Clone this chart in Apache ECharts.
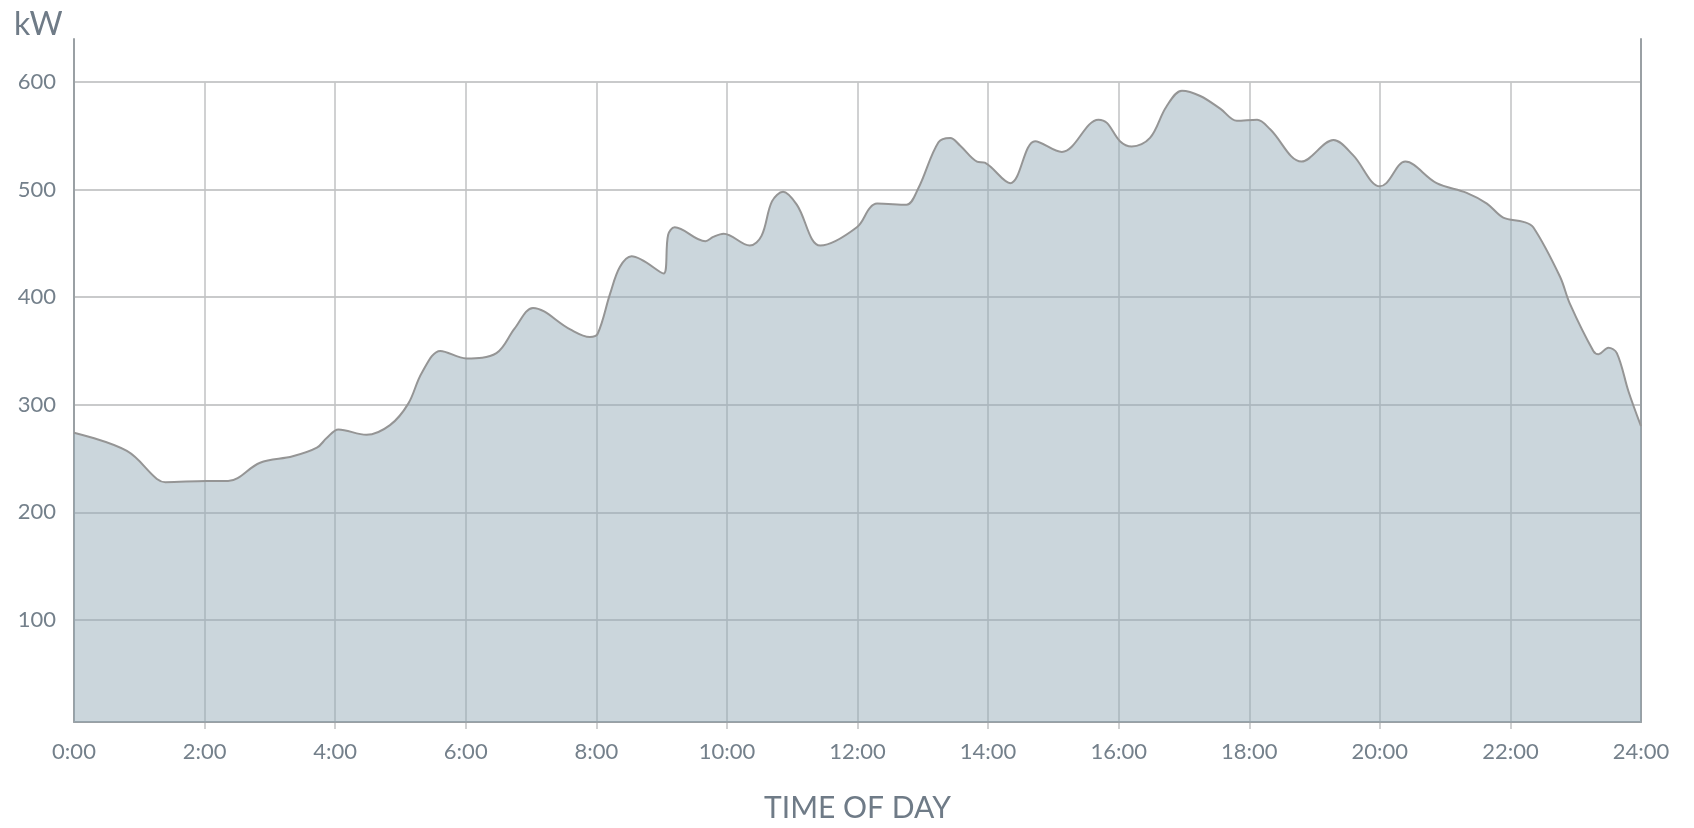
<!DOCTYPE html>
<html>
<head>
<meta charset="utf-8">
<script src="https://cdn.jsdelivr.net/npm/echarts@6/dist/echarts.min.js"></script>
<style>
html,body{margin:0;padding:0;background:#ffffff;}
#chart{width:1694px;height:828px;}
</style>
</head>
<body>
<div id="chart"></div>
<script>
// Time of day (hours) and load (kW)
const hours = [0.00,0.81,1.27,1.40,2.03,2.36,2.85,3.35,3.72,3.87,4.05,4.48,4.84,5.12,5.33,5.61,6.01,6.47,6.75,7.03,7.60,7.90,8.02,8.21,8.36,8.54,9.03,9.10,9.20,9.67,9.79,9.95,10.35,10.53,10.69,10.86,11.07,11.43,11.99,12.19,12.30,12.75,12.93,13.24,13.42,13.57,13.83,13.95,14.34,14.72,15.13,15.69,15.82,16.02,16.20,16.48,16.73,16.97,17.25,17.56,17.81,18.12,18.32,18.80,19.29,19.59,20.00,20.10,20.39,20.87,21.33,21.64,21.89,22.20,22.35,22.76,22.91,23.27,23.35,23.50,23.63,23.81,24.00];
const kw    = [274,257,231,228,229,229,246,252,260,269,277,272,281,301,330,350,343,348,371,390,370,363,366,403,428,438,422,458,465,452,456,459,448,457,489,498,486,448,465,483,487,486,501,544,548,541,526,525,506,545,535,565,562,545,540,548,577,592,587,575,564,565,556,526,546,532,503,506,526,506,497,487,474,470,465,419,394,350,347,353,348,312,280];
const yTickValues = [100,200,300,400,500,600];
const xTickHours = [0,2,4,6,8,10,12,14,16,18,20,22,24];

const yMin = 5, yMax = 640, gridTopValue = 600;
const textColor = '#74808b';
const font = 'Lato';

// pixel layout of the plotting area
const W = 1694, H = 828;
const gLeft = 74, gRight = 53, gTop = 39, gBottom = 99;
const plotH = H - gTop - gBottom;
const topOfGridlines = gTop + (yMax - gridTopValue) / (yMax - yMin) * plotH;

const chart = echarts.init(document.getElementById('chart'), null, {renderer:'canvas'});
chart.setOption({
  animation:false,
  backgroundColor:'#ffffff',
  title:{
    text:'kW', left:9, top:4,
    textStyle:{fontFamily:font, fontSize:32, fontWeight:'normal', color:'#6f7b87'}
  },
  grid:[
    {left:gLeft, right:gRight, top:gTop, bottom:gBottom, containLabel:false},
    {left:gLeft, right:gRight, top:topOfGridlines, bottom:gBottom, containLabel:false}
  ],
  xAxis:[{
    gridIndex:0, type:'value', min:0, max:24, interval:2,
    name:'TIME OF DAY', nameLocation:'middle', nameGap:71,
    nameTextStyle:{fontFamily:font, fontSize:30, color:'#6f7b87'},
    axisLine:{show:true, onZero:false, lineStyle:{color:'#9aa0a4', width:2}},
    axisTick:{show:false},
    axisLabel:{
      margin:19, fontFamily:font, fontSize:22, color:textColor,
      formatter:v => xTickHours.includes(v) ? v + ':00' : ''
    },
    splitLine:{show:false}
  },{
    gridIndex:1, type:'value', min:0, max:24, interval:2,
    axisLine:{show:false}, axisTick:{show:false}, axisLabel:{show:false},
    splitLine:{show:true, showMinLine:false, showMaxLine:false, lineStyle:{color:'#c0c2c3', width:1.5}}
  }],
  yAxis:[{
    gridIndex:0, type:'value', min:yMin, max:yMax, splitNumber:6,
    axisLine:{show:true, lineStyle:{color:'#9aa0a4', width:2}},
    axisTick:{show:false},
    axisLabel:{
      margin:18, fontFamily:font, fontSize:22, color:textColor,
      formatter:v => yTickValues.includes(v) ? String(v) : ''
    },
    splitLine:{show:true, showMinLine:false, showMaxLine:false, lineStyle:{color:'#b7b9ba', width:1.5}}
  },{
    gridIndex:0, type:'value', min:yMin, max:yMax, splitNumber:6, position:'right',
    axisLine:{show:true, lineStyle:{color:'#9aa0a4', width:2}},
    axisTick:{show:false}, axisLabel:{show:false}, splitLine:{show:false}
  },{
    gridIndex:1, type:'value', min:yMin, max:gridTopValue,
    axisLine:{show:false}, axisTick:{show:false}, axisLabel:{show:false}, splitLine:{show:false}
  }],
  series:[{
    type:'line', xAxisIndex:0, yAxisIndex:0,
    data:hours.map((h,i)=>[h,kw[i]]),
    smooth:0.35,
    showSymbol:false,
    lineStyle:{color:'#959595', width:2},
    areaStyle:{color:'rgba(146,170,181,0.48)', opacity:1, origin:'start'},
    z:3
  }]
});
</script>
</body>
</html>
